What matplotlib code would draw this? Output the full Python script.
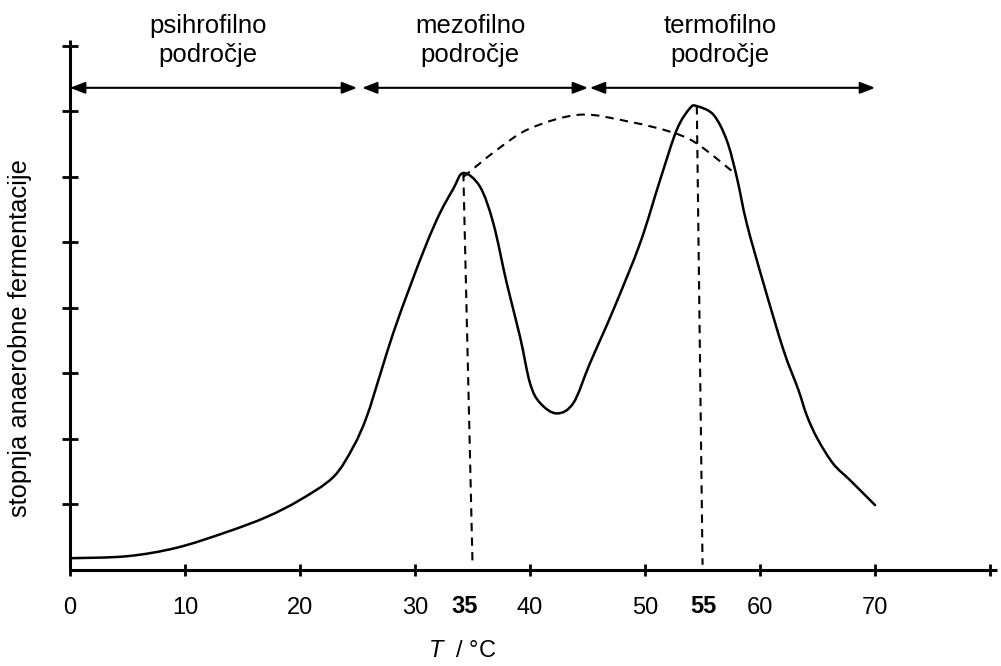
import matplotlib
matplotlib.use("Agg")
import matplotlib.pyplot as plt
from matplotlib.path import Path
from matplotlib.patches import PathPatch

plt.rcParams['font.family'] = ['Liberation Sans', 'DejaVu Sans']
plt.rcParams['mathtext.fontset'] = 'custom'
plt.rcParams['mathtext.it'] = 'Liberation Sans:italic'
plt.rcParams['mathtext.rm'] = 'Liberation Sans'

# solid curve: fermentation rate vs temperature
curve_T = [0, 4.93, 9.28, 13.63, 17.1, 20.0, 22.9, 24.63, 25.8, 26.96, 28.11,
           29.57, 31.02, 32.17, 33.33, 34.2, 35.65, 36.81, 37.97, 39.13, 40.0,
           40.87, 42.32, 43.77, 45.22, 47.24, 49.57, 51.3, 52.76, 53.91, 54.5,
           55.94, 57.1, 57.97, 58.84, 60.29, 62.03, 63.33, 64.06, 65.0, 66.37,
           67.83, 70.0]
curve_rate = [0.18, 0.21, 0.34, 0.58, 0.81, 1.07, 1.42, 1.88, 2.34, 2.98, 3.62,
              4.33, 4.99, 5.45, 5.82, 6.06, 5.85, 5.29, 4.38, 3.56, 2.85,
              2.55, 2.39, 2.55, 3.16, 3.97, 4.99, 5.95, 6.72, 7.05, 7.08,
              6.95, 6.56, 6.00, 5.29, 4.38, 3.36, 2.75, 2.36, 2.00, 1.62,
              1.37, 0.99]

# dashed envelope curve
env_T = [34.2, 37.1, 40.0, 44.35, 48.7, 52.17, 54.5, 57.97]
env_rate = [6.0, 6.41, 6.74, 6.95, 6.84, 6.69, 6.51, 6.03]

# dashed optimum lines (top point -> bottom point)
opt1_T = [34.2, 35.0]
opt1_rate = [6.06, 0.08]
opt2_T = [54.5, 55.0]
opt2_rate = [7.08, 0.08]

# temperature ranges
range_starts = [0, 25.4, 45.2]
range_ends = [24.96, 45.04, 70.0]
range_labels = ['psihrofilno\npodročje', 'mezofilno\npodročje', 'termofilno\npodročje']
range_label_x = [12.0, 34.8, 56.5]

xticks = [0, 10, 20, 30, 40, 50, 60, 70, 80]
xticklabels = ['0', '10', '20', '30', '40', '50', '60', '70', '']
yticks = [1, 2, 3, 4, 5, 6, 7, 8]
bold_labels = ['35', '55']
bold_label_x = [34.35, 55.1]


def smooth_path(xs, ys):
    """Cubic Bezier path passing through the given points (Catmull-Rom style)."""
    pts = list(zip(xs, ys))
    n = len(pts)
    verts = [pts[0]]
    codes = [Path.MOVETO]
    for i in range(n - 1):
        p0 = pts[i - 1] if i > 0 else pts[i]
        p1 = pts[i]
        p2 = pts[i + 1]
        p3 = pts[i + 2] if i + 2 < n else pts[i + 1]
        c1 = (p1[0] + (p2[0] - p0[0]) / 6, p1[1] + (p2[1] - p0[1]) / 6)
        c2 = (p2[0] - (p3[0] - p1[0]) / 6, p2[1] - (p3[1] - p1[1]) / 6)
        verts += [c1, c2, p2]
        codes += [Path.CURVE4] * 3
    return Path(verts, codes)


fig = plt.figure(figsize=(10.01, 6.66), dpi=100)
ax = fig.add_axes([70/1001, 96/666, 927/1001, 530/666])
ax.set_xlim(0, 80.6)
ax.set_ylim(0, 8.09)

ax.add_patch(PathPatch(smooth_path(curve_T, curve_rate), facecolor='none',
                       edgecolor='black', lw=1.8, joinstyle='round', capstyle='round'))
ax.add_patch(PathPatch(smooth_path(env_T, env_rate), facecolor='none',
                       edgecolor='black', lw=1.5, linestyle=(0, (4, 3))))
ax.plot(opt1_T, opt1_rate, color='black', lw=1.5, linestyle=(0, (4, 3)))
ax.plot(opt2_T, opt2_rate, color='black', lw=1.5, linestyle=(0, (4, 3)))

for s in ['top', 'right']:
    ax.spines[s].set_visible(False)
for s in ['left', 'bottom']:
    ax.spines[s].set_linewidth(2.2)
    ax.spines[s].set_capstyle('butt')

ax.set_xticks(xticks)
ax.set_xticklabels(xticklabels, fontsize=17)
ax.set_yticks(yticks)
ax.set_yticklabels([])
ax.tick_params(axis='x', direction='inout', length=9, width=2, pad=15)
ax.tick_params(axis='y', direction='inout', length=12, width=2)

for lab, x in zip(bold_labels, bold_label_x):
    ax.text(x, -0.56, lab, fontsize=17, fontweight='bold', ha='center', va='center',
            clip_on=False)

y_arrow = 7.36
for a, b in zip(range_starts, range_ends):
    ax.annotate('', xy=(b, y_arrow), xytext=(a, y_arrow),
                arrowprops=dict(arrowstyle='<|-|>,head_length=0.9,head_width=0.35',
                                color='black', lw=1.5, shrinkA=0, shrinkB=0),
                annotation_clip=False)

for lab, x in zip(range_labels, range_label_x):
    ax.text(x, 8.08, lab, fontsize=18.5, ha='center', va='center', linespacing=1.25,
            clip_on=False)

fig.text(462/1001, 1 - 651/666, r'$\mathit{T}$  / °C', fontsize=17, ha='center',
         va='center')
fig.text(20/1001, 1 - 338/666, 'stopnja anaerobne fermentacije', fontsize=18.4,
         rotation=90, ha='center', va='center')

fig.savefig('out.png', dpi=100)
